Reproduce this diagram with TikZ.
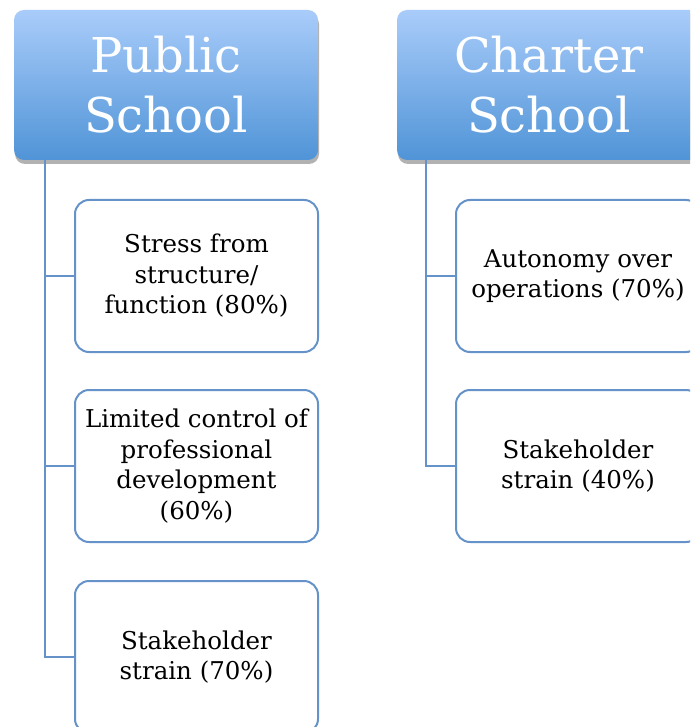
\documentclass[tikz,border=0pt]{standalone}
\usepackage{fontspec}
\setmainfont{DejaVu Serif}
\usetikzlibrary{shadows}
\definecolor{headtop}{HTML}{A9CCFA}
\definecolor{headbot}{HTML}{5094D7}
\definecolor{edgeblue}{HTML}{6592C8}
\tikzset{
	head/.style={ rectangle, rounded corners=10pt, minimum width=304pt, minimum height=150pt, top color=headtop, bottom color=headbot, text=white, align=center, font=\fontsize{48}{60}\selectfont, drop shadow={shadow xshift=1pt, shadow yshift=-4pt, opacity=0.3, fill=black} },
	item/.style={ rectangle, rounded corners=14pt, draw=edgeblue, line width=2pt, fill=white, minimum width=243pt, minimum height=152pt, align=center, font=\fontsize{24.5}{30.5}\selectfont },
	link/.style={ draw=edgeblue, line width=2pt }
}
\begin{document}
\begin{tikzpicture}[x=1pt, y=-1pt]
		\clip (0,0) rectangle (690,727);
		\fill[white] (0,0) rectangle (690,727);

		% public school column
		\node[head] (ps) at (166,85) {Public\\School};
		\node[item] (p1) at (196.5,276) {Stress from\\structure/\\function (80\%)};
		\node[item] (p2) at (196.5,466) {Limited control of\\professional\\development\\(60\%)};
		\node[item] (p3) at (196.5,657) {Stakeholder\\strain (70\%)};
		\draw[link] (ps.south west) ++(31,0) |- (p1.west);
		\draw[link] (ps.south west) ++(31,0) |- (p2.west);
		\draw[link] (ps.south west) ++(31,0) |- (p3.west);

		% charter school column
		\node[head] (cs) at (549,85) {Charter\\School};
		\node[item, minimum width=244pt] (c1) at (578,276) {Autonomy over\\operations (70\%)};
		\node[item, minimum width=244pt] (c2) at (578,466) {Stakeholder\\strain (40\%)};
		\draw[link] (cs.south west) ++(29,0) |- (c1.west);
		\draw[link] (cs.south west) ++(29,0) |- (c2.west);
	\end{tikzpicture}
\end{document}
